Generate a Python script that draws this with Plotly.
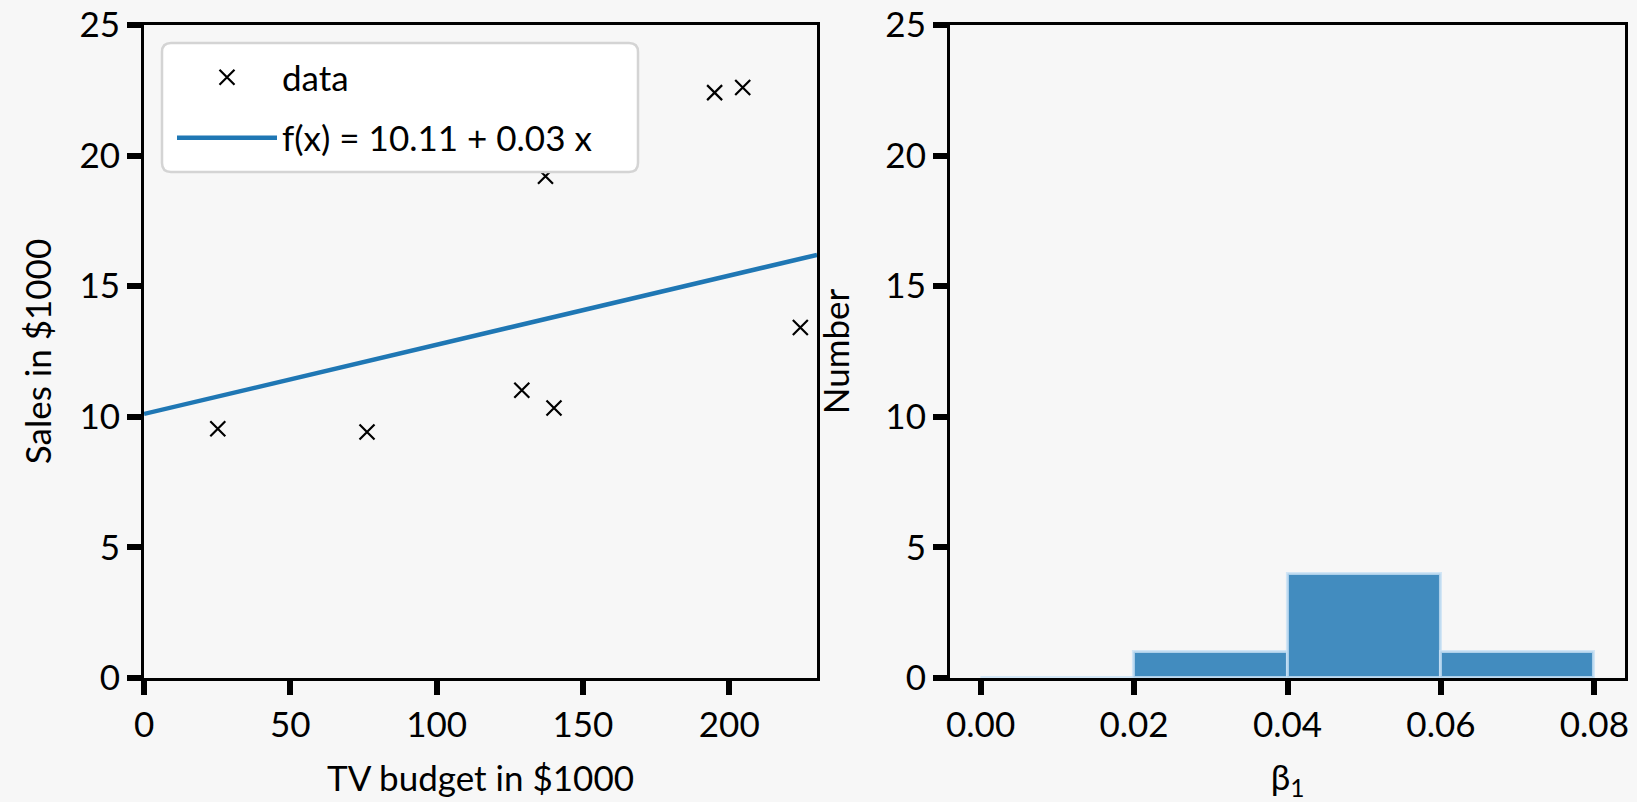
import plotly.graph_objects as go

# ---- data ----
tv_budget = [25.2, 76.2, 129.1, 140.1, 137.2, 195.0, 204.6, 224.3]
sales = [9.54, 9.42, 11.02, 10.34, 19.21, 22.41, 22.61, 13.42]

fit_x = [0, 230]
fit_y = [10.11, 16.2]
fit_label = "f(x) = 10.11 + 0.03 x"

bin_edges = [0.0, 0.02, 0.04, 0.06, 0.08]
bin_counts = [0, 1, 4, 1]

x1_ticks = [0, 50, 100, 150, 200]
y_ticks = [0, 5, 10, 15, 20, 25]
x2_ticks = [0.0, 0.02, 0.04, 0.06, 0.08]
x2_ticklabels = ["0.00", "0.02", "0.04", "0.06", "0.08"]

FONT = "Humor Sans, Comic Sans MS, xkcd, Lato, sans-serif"
BG = "#f7f7f7"
BLUE = "#1f77b4"
W, H = 1637, 802
MT, MB = 25, 124

fig = go.Figure()

fig.add_trace(go.Scatter(
    x=tv_budget, y=sales, mode="markers", name="data",
    marker=dict(symbol="x-thin", size=15, line=dict(color="black", width=2.2)),
    xaxis="x", yaxis="y", legendgroup="a",
))
fig.add_trace(go.Scatter(
    x=fit_x, y=fit_y, mode="lines", name=fit_label,
    line=dict(color=BLUE, width=4.5),
    xaxis="x", yaxis="y", legendgroup="b",
))

bin_widths = [bin_edges[i + 1] - bin_edges[i] for i in range(len(bin_counts))]
fig.add_trace(go.Bar(
    x=bin_edges[:-1], y=bin_counts, width=bin_widths, offset=0,
    marker=dict(color="rgba(31,119,180,0.84)",
                line=dict(color="rgba(200,225,245,0.8)", width=3)),
    xaxis="x2", yaxis="y2", showlegend=False,
))

axis_common = dict(
    showline=True, linecolor="black", linewidth=3, mirror=True,
    ticks="outside", ticklen=14, tickwidth=6, tickcolor="black",
    showgrid=False, zeroline=False, automargin=False,
    tickfont=dict(family=FONT, size=35, color="black"),
)

# legend frame (rounded white box), in pixel -> paper coordinates
def px_x(p):
    return p / W

def px_y(p):
    return (H - MB - p) / (H - MT - MB)

lx0, lx1, ly0, ly1, rad = 162, 638, 43, 172, 9
path = (
    f"M {px_x(lx0 + rad)},{px_y(ly0)} L {px_x(lx1 - rad)},{px_y(ly0)} "
    f"Q {px_x(lx1)},{px_y(ly0)} {px_x(lx1)},{px_y(ly0 + rad)} "
    f"L {px_x(lx1)},{px_y(ly1 - rad)} "
    f"Q {px_x(lx1)},{px_y(ly1)} {px_x(lx1 - rad)},{px_y(ly1)} "
    f"L {px_x(lx0 + rad)},{px_y(ly1)} "
    f"Q {px_x(lx0)},{px_y(ly1)} {px_x(lx0)},{px_y(ly1 - rad)} "
    f"L {px_x(lx0)},{px_y(ly0 + rad)} "
    f"Q {px_x(lx0)},{px_y(ly0)} {px_x(lx0 + rad)},{px_y(ly0)} Z"
)

fig.update_layout(
    width=W, height=H,
    margin=dict(l=0, r=0, t=MT, b=MB),
    paper_bgcolor=BG, plot_bgcolor=BG,
    font=dict(family=FONT, color="black"),
    xaxis=dict(domain=[0.088, 0.4991], range=[0, 230], tickvals=x1_ticks,
               title=dict(text="TV budget in $1000", font=dict(family=FONT, size=35), standoff=24),
               anchor="y", **axis_common),
    yaxis=dict(domain=[0, 1], range=[0, 25], tickvals=y_ticks,
               title=dict(text="Sales in $1000", font=dict(family=FONT, size=35), standoff=18),
               anchor="x", **axis_common),
    xaxis2=dict(domain=[0.5803, 0.9927], range=[-0.004, 0.084], tickvals=x2_ticks,
                ticktext=x2_ticklabels,
                title=dict(text="β<sub>1</sub>", font=dict(family=FONT, size=35), standoff=24),
                anchor="y2", **axis_common),
    yaxis2=dict(domain=[0, 1], range=[0, 25], tickvals=y_ticks,
                title=dict(text="Number", font=dict(family=FONT, size=35), standoff=26),
                anchor="x2", **axis_common),
    shapes=[dict(type="path", xref="paper", yref="paper", path=path,
                 fillcolor="white", line=dict(color="#d4d4d4", width=2.5),
                 layer="above")],
    legend=dict(x=px_x(172), y=px_y(48), xanchor="left", yanchor="top",
                bgcolor="rgba(0,0,0,0)", borderwidth=0,
                font=dict(family=FONT, size=35, color="black"),
                tracegroupgap=12, itemwidth=100),
    showlegend=True,
    bargap=0,
)

fig.write_html("out.html")
